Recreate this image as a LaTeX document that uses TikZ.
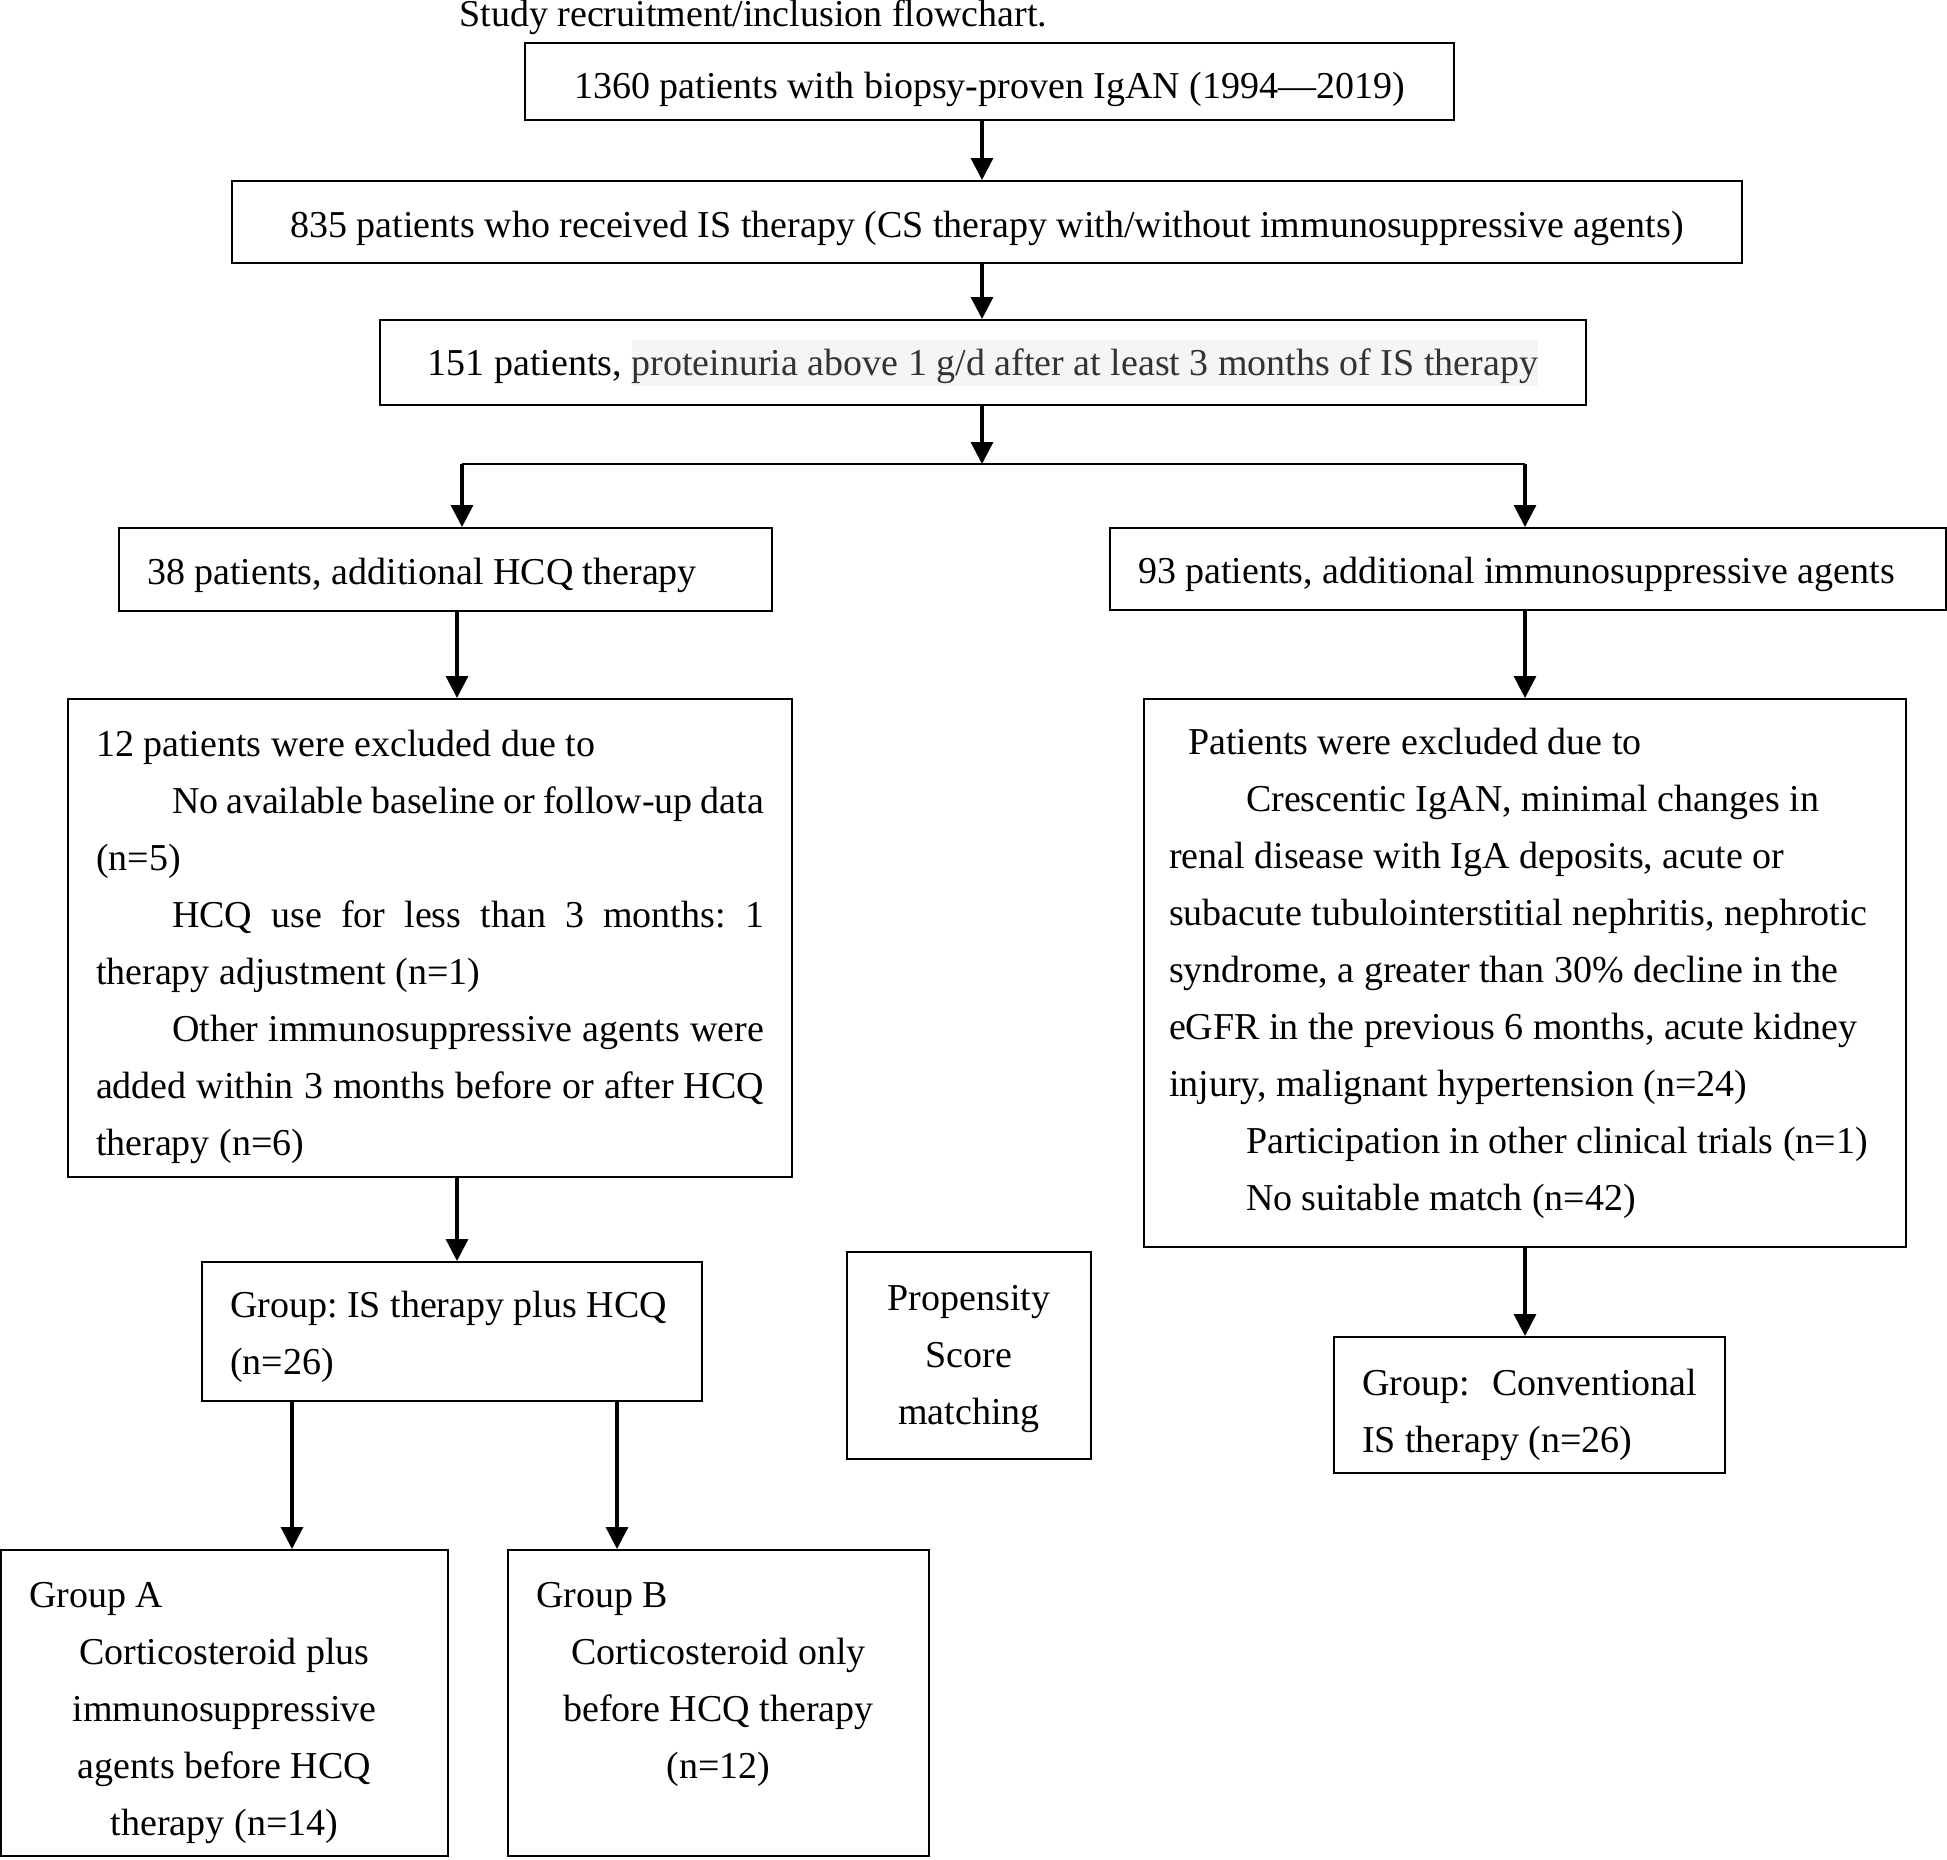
\documentclass[tikz,border=0pt]{standalone}
\usepackage{fontspec}
\setmainfont{Liberation Serif}
\usetikzlibrary{arrows.meta}
\definecolor{hlgray}{HTML}{F5F5F5}
\definecolor{hltext}{HTML}{333333}
\newcommand\jline[1]{\makebox[\linewidth][s]{#1}}

\begin{document}
\begin{tikzpicture}[x=1pt,y=-1pt,
   every node/.style={font=\fontsize{19}{28.5}\selectfont},
   box/.style={draw,line width=1pt,inner sep=0pt,inner xsep=14pt,
      execute at begin node={\spaceskip=0pt\xspaceskip=0pt\frenchspacing}},
   onebox/.style={box,text height=#1,text depth=4.5pt},
   multibox/.style={box,align=flush left,
      execute at begin node={\spaceskip=0pt\xspaceskip=0pt\frenchspacing\rule{0pt}{#1}}},
   arr/.style={-{Triangle[length=11pt,width=11pt]},line width=1.6pt},
   conn/.style={line width=1.3pt}]
   \useasboundingbox (0,0) rectangle (973.5,929.5);
   \node[anchor=base west,inner sep=0pt] (title) at (229.5,13) {Study recruitment/inclusion flowchart.};
   % top chain
   \node[onebox=21pt,minimum width=464.5pt,minimum height=38.5pt] (n1360) at (494.75,40.75)
      {1360 patients with biopsy-proven IgAN (1994---2019)};
   \node[onebox=19.5pt,minimum width=755pt,minimum height=41pt] (n835) at (493.5,111)
      {835 patients who received IS therapy (CS therapy with/without immunosuppressive agents)};
   \node[box,minimum width=603pt,minimum height=42.5pt] (n151) at (491.5,181.25)
      {151 patients, {\setlength\fboxsep{0pt}\colorbox{hlgray}{\color{hltext}\rule[-5pt]{0pt}{23pt}proteinuria above 1 g/d after at least 3 months of IS therapy}}};
   % two branches
   \node[onebox=19pt,text width=298.5pt,align=flush left,minimum height=41.5pt] (hcq38) at (222.75,284.75)
      {38 patients, additional HCQ therapy};
   \node[onebox=19pt,text width=390pt,align=flush left,minimum height=41pt] (is93) at (764,284.5)
      {93 patients, additional immunosuppressive agents};
   \node[multibox=21.7pt,text width=334pt,minimum height=239pt] (excl12) at (215,469)
      {12 patients were excluded due to\\
       \jline{\hspace*{38pt}No available baseline or follow-up data}\\
       (n=5)\\
       \jline{\hspace*{38pt}HCQ use for less than 3 months: 1}\\
       therapy adjustment (n=1)\\
       \jline{\hspace*{38pt}Other immunosuppressive agents were}\\
       \jline{added within 3 months before or after HCQ}\\
       therapy (n=6)};
   \node[box,align=flush left,text width=356pt,inner xsep=12.5pt,minimum height=274pt] (exclis) at (762.5,486.5)
      {\hspace*{9.5pt}Patients were excluded due to\\
       \hspace*{38.5pt}Crescentic IgAN, minimal changes in\\
       renal disease with IgA deposits, acute or\\
       subacute tubulointerstitial nephritis, nephrotic\\
       syndrome, a greater than 30\% decline in the\\
       eGFR in the previous 6 months, acute kidney\\
       injury, malignant hypertension (n=24)\\
       \hspace*{38.5pt}Participation in other clinical trials (n=1)\\
       \hspace*{38.5pt}No suitable match (n=42)};
   % groups
   \node[multibox=19pt,text width=222pt,minimum height=69.5pt] (grphcq) at (226,665.75)
      {Group: IS therapy plus HCQ\\(n=26)};
   \node[box,inner xsep=0pt,align=center,minimum width=122pt,minimum height=103.5pt] (psm) at (484.5,677.75)
      {\rule{0pt}{16pt}Propensity\\Score\\matching};
   \node[multibox=23pt,text width=167.5pt,minimum height=68pt] (grpconv) at (764.75,702.5)
      {\jline{Group: Conventional}\\IS therapy (n=26)};
   \node[multibox=23pt,text width=195.5pt,align=flush center,minimum height=153pt] (grpA) at (112.25,851.5)
      {\makebox[\linewidth][l]{Group A}\\Corticosteroid plus\\immunosuppressive\\agents before HCQ\\therapy (n=14)};
   \node[multibox=23pt,text width=182.5pt,align=flush center,minimum height=153pt] (grpB) at (359.25,851.5)
      {\makebox[\linewidth][l]{Group B}\\Corticosteroid only\\before HCQ therapy\\(n=12)\\\vphantom{(}};
   % arrow columns
   \coordinate (mx) at (491,0);
   \coordinate (lx) at (231,0);
   \coordinate (lx2) at (228.5,0);
   \coordinate (rx) at (762.5,0);
   \coordinate (ax) at (146,0);
   \coordinate (bx) at (308.5,0);
   \coordinate (split) at (491,232);
   \draw[conn] (split -| lx) -- (split -| rx);
   \path[arr]
    (n1360.south -| mx) edge (n835.north -| mx)
    (n835.south -| mx) edge (n151.north -| mx)
    (n151.south -| mx) edge (split)
    (split -| lx) edge (hcq38.north -| lx)
    (split -| rx) edge (is93.north -| rx)
    (hcq38.south -| lx2) edge (excl12.north -| lx2)
    (excl12.south -| lx2) edge (grphcq.north -| lx2)
    (is93.south -| rx) edge (exclis.north -| rx)
    (exclis.south -| rx) edge (grpconv.north -| rx)
    (grphcq.south -| ax) edge (grpA.north -| ax)
    (grphcq.south -| bx) edge (grpB.north -| bx);
\end{tikzpicture}
\end{document}
